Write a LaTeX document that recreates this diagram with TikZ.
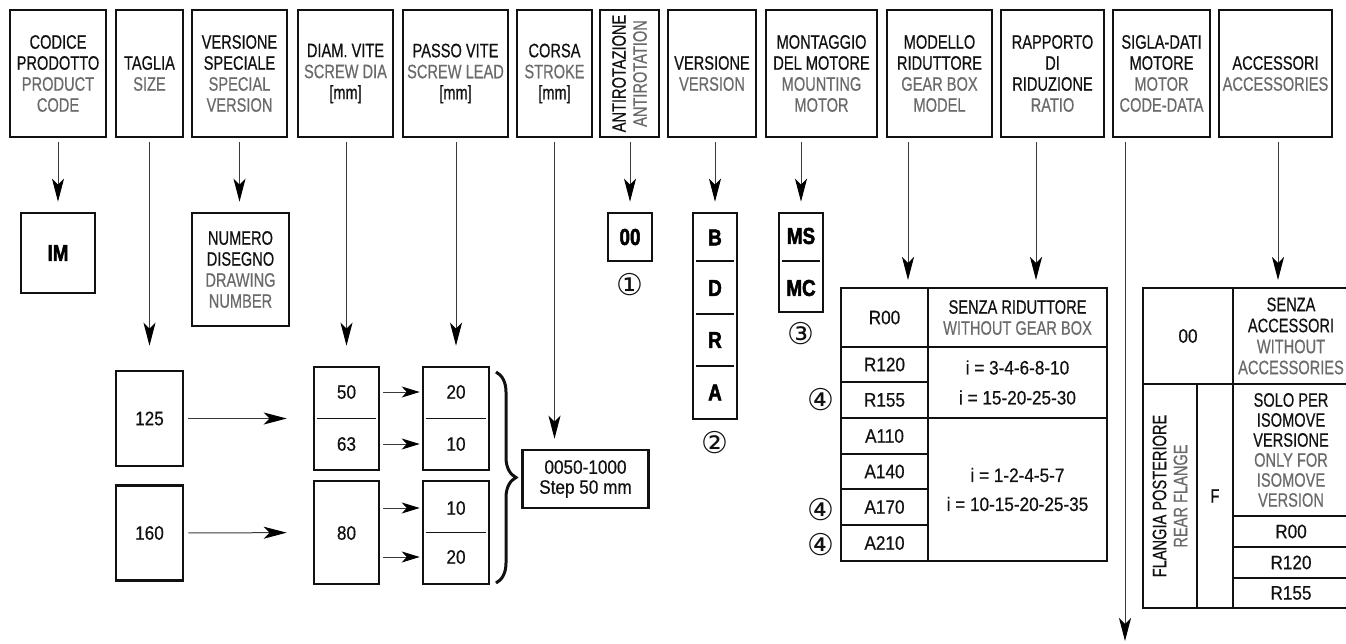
\documentclass[tikz,border=0pt]{standalone}
\usepackage{fontspec}
\setmainfont{Liberation Sans}[FakeStretch=0.75,FakeBold=0.5]
\newfontfamily\numf{Liberation Sans}[FakeStretch=0.88,FakeBold=0.5]
\newfontfamily\blkf{Liberation Sans}[FakeStretch=0.82,FakeBold=2.2]
\newfontfamily\circf{DejaVu Sans}
\usetikzlibrary{arrows.meta,decorations.pathreplacing}
\definecolor{ink}{HTML}{111111}
\definecolor{eng}{HTML}{6A6A6A}
\definecolor{wire}{HTML}{3A3A3A}
\newcommand\en[1]{\textcolor{eng}{#1}}
\newcommand\hsz{\fontsize{19.5}{21}\selectfont}
\begin{document}
\begin{tikzpicture}[x=1pt,y=-1pt,
  hdr/.style={draw=ink, line width=2.6pt, minimum height=127pt, inner sep=0pt, align=center, font=\hsz, text=ink},
  box/.style={draw=ink, line width=2.6pt, inner sep=0pt, align=center, font=\hsz, text=ink},
  txt/.style={inner sep=0pt, align=center, font=\hsz, text=ink},
  num/.style={inner sep=0pt, align=center, font=\numf\hsz, text=ink},
  bld/.style={inner sep=0pt, font=\blkf\bfseries\fontsize{23}{24}\selectfont, text=black},
  circ/.style={inner sep=0pt, font=\circf\fontsize{30}{30}\selectfont, text=ink},
  arr/.style={draw=wire, line width=1pt, -{Stealth[length=23pt,width=12pt,inset=6pt,color=black]}, shorten <=4pt},
  sarr/.style={draw=wire, line width=1pt, -{Stealth[length=18pt,width=11pt,inset=5pt,color=black]}, shorten <=3pt, shorten >=2pt},
  tline/.style={draw=ink, line width=1.4pt},
  divl/.style={draw=ink, line width=1.2pt}
]
\useasboundingbox (0,0) rectangle (1346,643);

% ---------- header row ----------
\node[hdr, minimum width=96pt]  (h1)  at (58,73.5)    {CODICE\\PRODOTTO\\\en{PRODUCT}\\\en{CODE}};
\node[hdr, minimum width=67pt]  (h2)  at (149.5,73.5) {TAGLIA\\\en{SIZE}};
\node[hdr, minimum width=95pt]  (h3)  at (239.5,73.5) {VERSIONE\\SPECIALE\\\en{SPECIAL}\\\en{VERSION}};
\node[hdr, minimum width=95pt]  (h4)  at (345.5,73.5) {DIAM. VITE\\\en{SCREW DIA}\\{[mm]}};
\node[hdr, minimum width=105pt] (h5)  at (455.5,73.5) {PASSO VITE\\\en{SCREW LEAD}\\{[mm]}};
\node[hdr, minimum width=75pt]  (h6)  at (554.5,73.5) {CORSA\\\en{STROKE}\\{[mm]}};
\node[hdr, minimum width=59pt]  (h7)  at (629.5,73.5) {};
\node[txt, rotate=90] (h7t) at (h7.center) {ANTIROTAZIONE\\\en{ANTIROTATION}};
\node[hdr, minimum width=88pt]  (h8)  at (712,73.5)   {VERSIONE\\\en{VERSION}};
\node[hdr, minimum width=111pt] (h9)  at (821.5,73.5) {MONTAGGIO\\DEL MOTORE\\\en{MOUNTING}\\\en{MOTOR}};
\node[hdr, minimum width=105pt] (h10) at (939.5,73.5) {MODELLO\\RIDUTTORE\\\en{GEAR BOX}\\\en{MODEL}};
\node[hdr, minimum width=103pt] (h11) at (1052.5,73.5) {RAPPORTO\\DI\\RIDUZIONE\\\en{RATIO}};
\node[hdr, minimum width=97pt]  (h12) at (1161.5,73.5) {SIGLA-DATI\\MOTORE\\\en{MOTOR}\\\en{CODE-DATA}};
\node[hdr, minimum width=113pt] (h13) at (1275.5,73.5) {ACCESSORI\\\en{ACCESSORIES}};

% ---------- first level boxes ----------
\node[box, minimum width=74pt, minimum height=80pt] (im) at (58,253) {};
\node[bld] at (im.center) {IM};
\node[box, minimum width=97pt, minimum height=113pt] (nd) at (240.5,269.5) {NUMERO\\DISEGNO\\\en{DRAWING}\\\en{NUMBER}};

\node[box, minimum width=44pt, minimum height=48pt] (b00) at (630,237) {};
\node[bld] at (b00.center) {00};
\node[circ] (c1) at (630,285) {①};

\node[box, minimum width=44pt, minimum height=206pt] (bv) at (715,316) {};
\draw[divl] (696,261) -- (734,261);
\draw[divl] (696,314) -- (734,314);
\draw[divl] (696,366) -- (734,366);
\node[bld] (vB) at (715,237.5) {B};
\node[bld] (vD) at (715,288) {D};
\node[bld] (vR) at (715,340) {R};
\node[bld] (vA) at (715,392.5) {A};
\node[circ] (c2) at (715,443) {②};

\node[box, minimum width=44pt, minimum height=99pt] (bm) at (801,262.5) {};
\draw[divl] (782,261) -- (820,261);
\node[bld] (mMS) at (801,236) {MS};
\node[bld] (mMC) at (801,288) {MC};
\node[circ] (c3) at (801,334) {③};

% ---------- size / screw boxes ----------
\node[box, minimum width=67pt, minimum height=95pt] (b125) at (149.5,418.5) {};
\node[num] at (b125.center) {125};
\node[box, minimum width=67pt, minimum height=95pt] (b160) at (149.5,533) {};
\node[num] at (b160.center) {160};

\node[box, minimum width=65pt, minimum height=103pt] (d1) at (346.5,418.5) {};
\draw[divl] ([xshift=4pt]d1.west) -- ([xshift=-4pt]d1.east);
\node[num] (t50) at (346.5,392) {50};
\node[num] (t63) at (346.5,444) {63};
\node[box, minimum width=66pt, minimum height=103pt] (d2) at (456,418.5) {};
\draw[divl] ([xshift=4pt]d2.west) -- ([xshift=-4pt]d2.east);
\node[num] (t20) at (456,392) {20};
\node[num] (t10) at (456,444) {10};

\node[box, minimum width=65pt, minimum height=103pt] (d3) at (346.5,532.5) {};
\node[num] (t80) at (346.5,533) {80};
\node[box, minimum width=66pt, minimum height=103pt] (d4) at (456,532.5) {};
\draw[divl] ([xshift=4pt]d4.west) -- ([xshift=-4pt]d4.east);
\node[num] (t10b) at (456,508) {10};
\node[num] (t20b) at (456,557) {20};

\coordinate (bt) at (496,372);
\coordinate (bb) at (496,583);
\draw[ink, line width=3pt, decorate, decoration={brace, amplitude=20pt}] (bt) -- (bb);

\node[box, num, draw=ink, line width=2.6pt, minimum width=126pt, minimum height=58pt, font=\numf\fontsize{19.5}{20}\selectfont] (cb) at (585.5,479) {0050-1000\\Step 50 mm};

% ---------- gear box table ----------
\draw[tline] (841,288) rectangle (1107,561);
\draw[tline] (928,288) -- (928,561);
\draw[tline] (841,347) -- (1107,347);
\draw[tline] (841,382) -- (928,382);
\draw[tline] (841,418) -- (1107,418);
\draw[tline] (841,454) -- (928,454);
\draw[tline] (841,489) -- (928,489);
\draw[tline] (841,525) -- (928,525);
\node[num] (gR00)  at (884.5,317.5) {R00};
\node[txt] (gSR)   at (1017.5,317.5) {SENZA RIDUTTORE\\\en{WITHOUT GEAR BOX}};
\node[num] (gR120) at (884.5,364.5) {R120};
\node[num] (gR155) at (884.5,400) {R155};
\node[num] (gA110) at (884.5,436) {A110};
\node[num] (gA140) at (884.5,471.5) {A140};
\node[num] (gA170) at (884.5,507) {A170};
\node[num] (gA210) at (884.5,543) {A210};
\node[num, font=\numf\fontsize{19.5}{30}\selectfont] (gi1) at (1017.5,382.5) {i = 3-4-6-8-10\\i = 15-20-25-30};
\node[num, font=\numf\fontsize{19.5}{29}\selectfont] (gi2) at (1017.5,489.5) {i = 1-2-4-5-7\\i = 10-15-20-25-35};
\node[circ] (c4a) at (821,400) {④};
\node[circ] (c4b) at (821,510) {④};
\node[circ] (c4c) at (821,545) {④};
\coordinate (gm) at (908,288);
\coordinate (gr) at (1036,288);

% ---------- accessories table ----------
\draw[tline] (1346,288) -- (1143,288) -- (1143,608) -- (1346,608);
\draw[tline] (1233,288) -- (1233,608);
\draw[tline] (1143,384) -- (1346,384);
\draw[tline] (1197,384) -- (1197,608);
\draw[tline] (1233,516) -- (1346,516);
\draw[tline] (1233,547) -- (1346,547);
\draw[tline] (1233,578) -- (1346,578);
\node[num] (a00) at (1188,336) {00};
\node[txt] (aSA) at (1291,336) {SENZA\\ACCESSORI\\\en{WITHOUT}\\\en{ACCESSORIES}};
\node[txt, rotate=90] (aFP) at (1170,496) {FLANGIA POSTERIORE\\\en{REAR FLANGE}};
\node[txt] (aF) at (1215,496) {F};
\node[txt, font=\fontsize{19.5}{20}\selectfont] (aSP) at (1291,450) {SOLO PER\\ISOMOVE\\VERSIONE\\\en{ONLY FOR}\\\en{ISOMOVE}\\\en{VERSION}};
\node[num] (aR00)  at (1291,531.5) {R00};
\node[num] (aR120) at (1291,562.5) {R120};
\node[num] (aR155) at (1291,593) {R155};
\coordinate (ga) at (1278,288);
\coordinate (se) at (1125,641);

% ---------- connectors ----------
\draw[arr, shorten >=10pt] (h1) -- (im);
\draw[arr, shorten >=24pt] (h2) -- (b125);
\draw[arr, shorten >=10pt] (h3.south) -- (h3.south |- nd.north);
\draw[arr, shorten >=20pt] (d1.north |- h4.south) -- (d1.north);
\draw[arr, shorten >=20pt] (d2.north |- h5.south) -- (d2.north);
\draw[arr, shorten >=10pt] (h6.south) -- (h6.south |- cb.north);
\draw[arr, shorten >=10pt] (b00.north |- h7.south) -- (b00.north);
\draw[arr, shorten >=10pt] (bv.north |- h8.south) -- (bv.north);
\draw[arr, shorten >=10pt] (bm.north |- h9.south) -- (bm.north);
\draw[arr, shorten >=8pt] (gm |- h10.south) -- (gm);
\draw[arr, shorten >=8pt] (gr |- h11.south) -- (gr);
\draw[arr] (se |- h12.south) -- (se);
\draw[arr, shorten >=8pt] (ga |- h13.south) -- (ga);

\draw[arr, shorten >=26pt] (b125) -- (d1);
\draw[arr, shorten >=26pt] (b160) -- (d3);
\draw[sarr] (t50 -| d1.east) -- (t50 -| d2.west);
\draw[sarr] (t63 -| d1.east) -- (t63 -| d2.west);
\draw[sarr] (t10b -| d3.east) -- (t10b -| d4.west);
\draw[sarr] (t20b -| d3.east) -- (t20b -| d4.west);
\end{tikzpicture}
\end{document}
